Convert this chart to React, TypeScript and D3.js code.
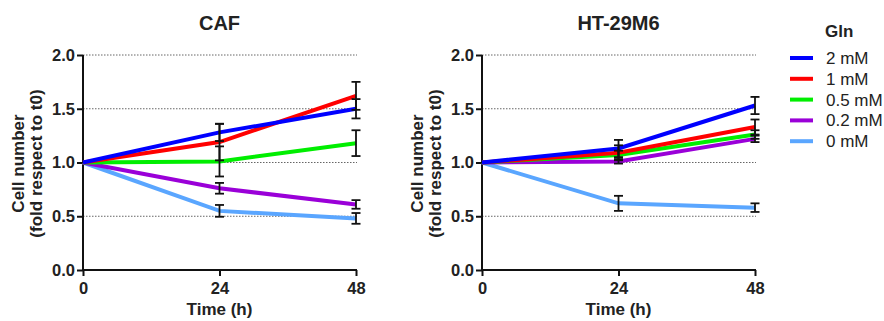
import { useEffect, useRef } from "react";
import * as d3 from "d3";

const times = [0, 24, 48];
const yTicks = [0, 0.5, 1.0, 1.5, 2.0];
const seriesNames = ["2 mM", "1 mM", "0.5 mM", "0.2 mM", "0 mM"];
const seriesColors = ["#0000ff", "#ff0000", "#00ee00", "#9a00d8", "#5aa6ff"];

// CAF panel: mean and error per series (rows follow seriesNames)
const cafMeans = [
  [1, 1.28, 1.5],
  [1, 1.19, 1.62],
  [1, 1.01, 1.18],
  [1, 0.76, 0.61],
  [1, 0.55, 0.48],
];
const cafErrors = [
  [0, 0.08, 0.09],
  [0, 0.17, 0.13],
  [0, 0.14, 0.12],
  [0, 0.05, 0.04],
  [0, 0.055, 0.05],
];

// HT-29M6 panel
const htMeans = [
  [1, 1.13, 1.53],
  [1, 1.09, 1.33],
  [1, 1.07, 1.26],
  [1, 1.01, 1.22],
  [1, 0.62, 0.58],
];
const htErrors = [
  [0, 0.08, 0.08],
  [0, 0.07, 0.07],
  [0, 0.04, 0.04],
  [0, 0.02, 0.03],
  [0, 0.07, 0.04],
];

const FONT = "'Liberation Sans', Arial, sans-serif";

function drawPanel(svg, left, title, means, errors) {
  const x = d3.scaleLinear().domain([0, 48]).range([left, left + 273]);
  const y = d3.scaleLinear().domain([0, 2]).range([270, 55]);
  const g = svg.append("g");

  g.append("text")
    .attr("x", x(24))
    .attr("y", 30)
    .attr("text-anchor", "middle")
    .attr("font-size", "20px")
    .attr("font-weight", "bold")
    .attr("font-family", FONT)
    .attr("fill", "#222")
    .text(title);

  // dotted grid
  g.selectAll("line.grid")
    .data(yTicks.filter((d) => d > 0))
    .enter()
    .append("line")
    .attr("x1", x(0))
    .attr("x2", x(48) + 1)
    .attr("y1", (d) => y(d))
    .attr("y2", (d) => y(d))
    .attr("stroke", "#666")
    .attr("stroke-width", 1)
    .attr("stroke-dasharray", "1.5,1.5");

  const yAxis = g
    .append("g")
    .attr("transform", `translate(${x(0)},0)`)
    .call(d3.axisLeft(y).tickValues(yTicks).tickFormat(d3.format(".1f")).tickSize(6).tickPadding(2));
  const xAxis = g
    .append("g")
    .attr("transform", `translate(0,${y(0)})`)
    .call(d3.axisBottom(x).tickValues(times).tickSize(6).tickPadding(6));

  [yAxis, xAxis].forEach((ax) => {
    ax.select(".domain").attr("stroke", "#111").attr("stroke-width", 2);
    ax.selectAll(".tick line").attr("stroke", "#111").attr("stroke-width", 2);
    ax.selectAll(".tick text")
      .attr("font-size", "16.5px")
      .attr("font-weight", "bold")
      .attr("font-family", FONT)
      .attr("fill", "#222");
  });
  xAxis.select(".domain").attr("d", `M${x(0)},0H${x(48) + 1}`);
  yAxis.select(".domain").attr("d", `M0,${y(0) + 1}V${y(2)}`);

  g.append("text")
    .attr("x", x(24))
    .attr("y", 315)
    .attr("text-anchor", "middle")
    .attr("font-size", "17px")
    .attr("font-weight", "bold")
    .attr("font-family", FONT)
    .attr("fill", "#222")
    .text("Time (h)");

  const yl = g
    .append("text")
    .attr("transform", `translate(${left - 59},${y(1.0) + 1}) rotate(-90)`)
    .attr("text-anchor", "middle")
    .attr("font-size", "17px")
    .attr("font-weight", "bold")
    .attr("font-family", FONT)
    .attr("fill", "#222");
  yl.append("tspan").attr("x", 0).attr("dy", 0).text("Cell number");
  yl.append("tspan").attr("x", 0).attr("dy", 18).text("(fold respect to t0)");

  const line = d3
    .line()
    .x((d, i) => x(times[i]))
    .y((d) => y(d));

  const order = d3.range(means.length).reverse();
  order.forEach((s) => {
    g.append("path")
      .datum(means[s])
      .attr("fill", "none")
      .attr("stroke", seriesColors[s])
      .attr("stroke-width", 4)
      .attr("d", line);
  });

  order.forEach((s) => {
    means[s].forEach((m, i) => {
      const e = errors[s][i];
      if (!e) return;
      const cx = x(times[i]);
      const eb = g.append("g").attr("stroke", "#111").attr("stroke-width", 1.8);
      eb.append("line").attr("x1", cx).attr("x2", cx).attr("y1", y(m - e)).attr("y2", y(m + e));
      eb.append("line").attr("x1", cx - 4.5).attr("x2", cx + 4.5).attr("y1", y(m - e)).attr("y2", y(m - e));
      eb.append("line").attr("x1", cx - 4.5).attr("x2", cx + 4.5).attr("y1", y(m + e)).attr("y2", y(m + e));
    });
  });
}

export default function App() {
  const ref = useRef(null);

  useEffect(() => {
    document.body.style.margin = "0";
    const svg = d3.select(ref.current);
    svg.selectAll("*").remove();

    drawPanel(svg, 83, "CAF", cafMeans, cafErrors);
    drawPanel(svg, 482, "HT-29M6", htMeans, htErrors);

    const leg = svg.append("g");
    leg.append("text")
      .attr("x", 825)
      .attr("y", 37)
      .attr("font-size", "17px")
      .attr("font-weight", "bold")
      .attr("font-family", FONT)
      .attr("fill", "#222")
      .text("Gln");
    const items = leg
      .selectAll("g.item")
      .data(seriesNames)
      .enter()
      .append("g")
      .attr("transform", (d, i) => `translate(0,${58 + i * 20.8})`);
    items
      .append("line")
      .attr("x1", 790)
      .attr("x2", 813)
      .attr("stroke", (d, i) => seriesColors[i])
      .attr("stroke-width", 4);
    items
      .append("text")
      .attr("x", 826)
      .attr("y", 6)
      .attr("font-size", "17px")
      .attr("font-family", FONT)
      .attr("fill", "#222")
      .text((d) => d);
  }, []);

  return <svg ref={ref} width={884} height={321} style={{ display: "block", background: "#fff" }} />;
}
